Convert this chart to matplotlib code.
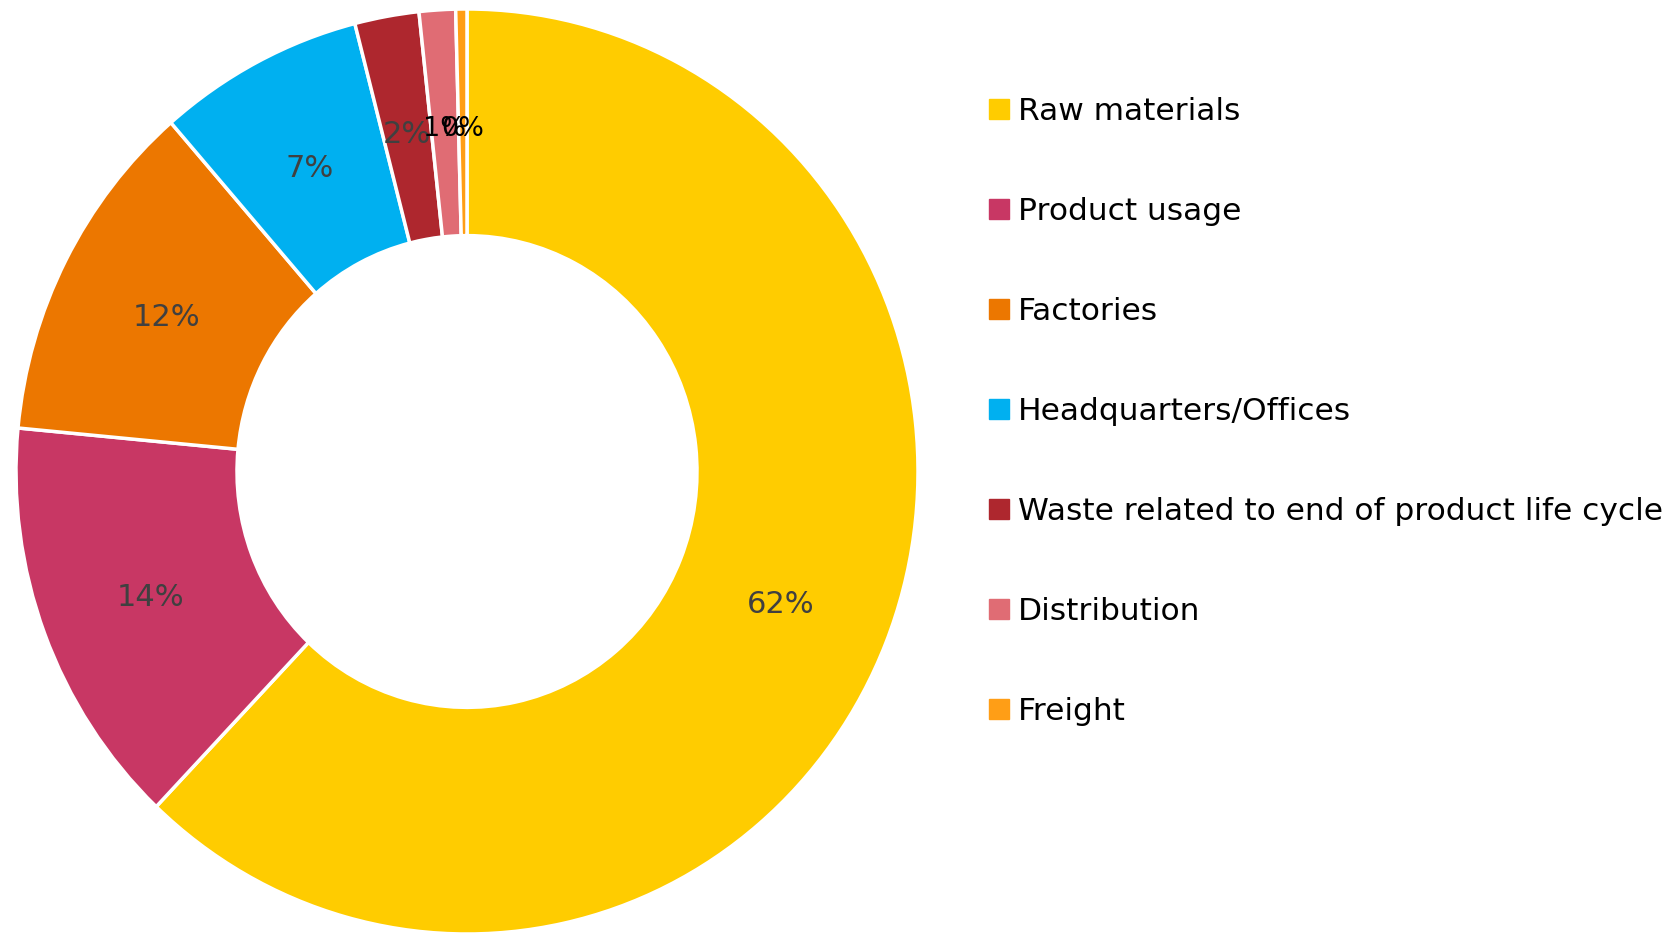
import matplotlib
matplotlib.use("Agg")
import matplotlib.pyplot as plt
from matplotlib.lines import Line2D
from matplotlib.transforms import offset_copy

categories = [
    "Raw materials",
    "Product usage",
    "Factories",
    "Headquarters/Offices",
    "Waste related to end of product life cycle",
    "Distribution",
    "Freight",
]
shares = [62.1, 14.4, 12.1, 7.4, 2.3, 1.3, 0.4]
colors = ["#FFCC00", "#C83764", "#EC7700", "#00B0F0", "#AE272E", "#E06C74", "#FF9E16"]

W, H = 1678, 936
fig = plt.figure(figsize=(W / 100, H / 100), dpi=100)
# ring is slightly taller than wide in the original
ax = fig.add_axes([16 / W, (H - 934) / H, 902 / W, 925 / H])

wedges, texts, autotexts = ax.pie(
    shares,
    colors=colors,
    startangle=90,
    counterclock=False,
    autopct="%1.0f%%",
    pctdistance=0.75,
    wedgeprops=dict(width=0.49, edgecolor="white", linewidth=2.5),
    textprops=dict(fontsize=22, color="#404040"),
)
for t in autotexts:
    # labels sit a little below the ring's mid line in the original
    t.set_transform(offset_copy(t.get_transform(), fig=fig, y=-4, units="dots"))
# the two thinnest slices have smaller black labels in the original
for t in autotexts[-2:]:
    t.set_color("black")
    t.set_fontsize(19.5)

ax.set_xlim(-1, 1)
ax.set_ylim(-1, 1)
ax.set_aspect("auto")

handles = [Line2D([], [], linestyle="none", marker="s", markersize=14,
                  markerfacecolor=c, markeredgecolor=c) for c in colors]
fig.legend(handles, categories, loc="upper left",
           bbox_to_anchor=(990 / W, 1 - 97 / H),
           frameon=False, fontsize=22.5, handlelength=0.6, handletextpad=0.3,
           labelspacing=2.27, borderaxespad=0, borderpad=0)

fig.savefig("out.png", dpi=100)
